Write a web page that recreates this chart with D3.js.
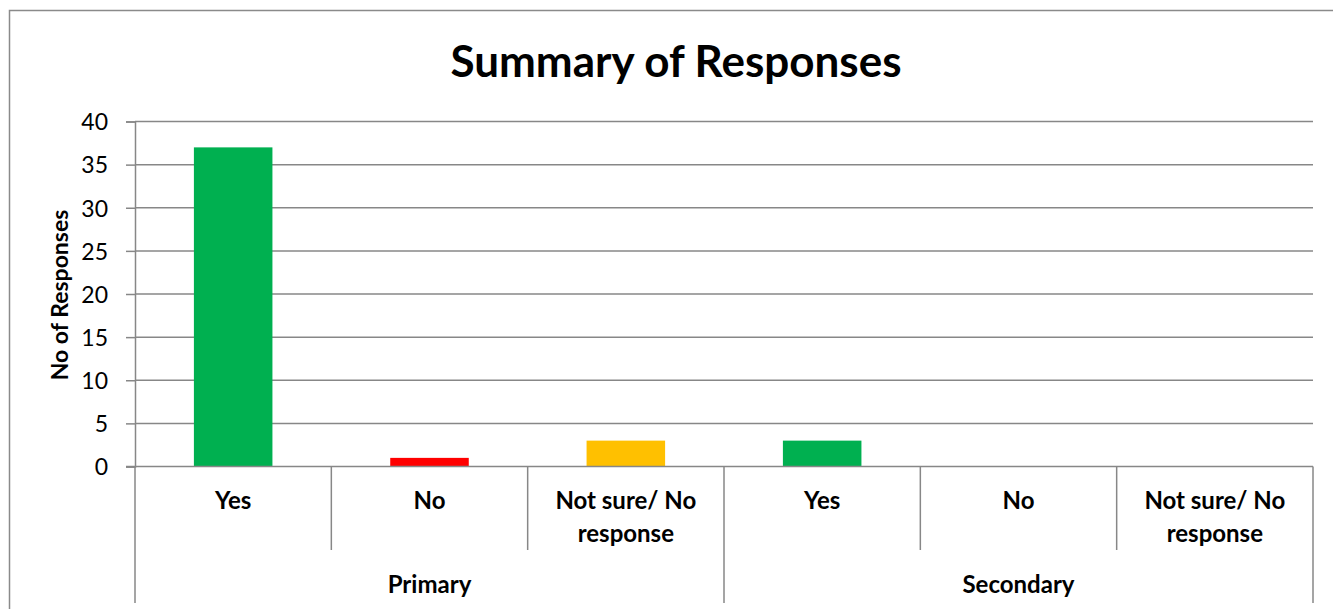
<!DOCTYPE html>
<html>
<head>
<meta charset="utf-8">
<script src="https://cdn.jsdelivr.net/npm/d3@7"></script>
<style>
  html, body { margin: 0; padding: 0; background: #fff; }
  svg { display: block; font-family: Lato, "Open Sans", sans-serif; }
</style>
</head>
<body>
<svg id="chart" width="1333" height="609"></svg>
<script>
// Survey answers, grouped by school phase
const groups = ["Primary", "Secondary"];
const answers = ["Yes", "No", "Not sure/ No response"];
const values = [37, 1, 3, 3, 0, 0];
const barColors = ["#00B050", "#FF0000", "#FFC000"];
const yTicks = [0, 5, 10, 15, 20, 25, 30, 35, 40];

const svg = d3.select("#chart");
const plot = { left: 135, right: 1313, top: 121.5, bottom: 466.5 };
const gridColor = "#878787";

// chart frame
svg.append("rect")
  .attr("x", 9.5).attr("y", 10.5)
  .attr("width", 1340).attr("height", 620)
  .attr("fill", "#fff").attr("stroke", "#8a8a8a").attr("stroke-width", 1.5);

// title
svg.append("text")
  .attr("x", 676).attr("y", 77)
  .attr("text-anchor", "middle")
  .attr("font-size", 44).attr("font-weight", "bold")
  .attr("fill", "#000")
  .text("Summary of Responses");

// flattened category list: one slot per group/answer pair
const cats = [];
groups.forEach(g => answers.forEach((a, i) => cats.push({ group: g, answer: a, idx: i })));
cats.forEach((c, i) => { c.key = i; c.value = values[i]; });

const x = d3.scaleBand()
  .domain(cats.map(c => c.key))
  .range([plot.left, plot.right])
  .paddingInner(0.6).paddingOuter(0.3);
const slot = d3.scaleBand()
  .domain(cats.map(c => c.key))
  .range([plot.left, plot.right]);

const y = d3.scaleLinear().domain([0, 40]).range([plot.bottom, plot.top]);

// horizontal gridlines
svg.append("g")
  .selectAll("line")
  .data(yTicks.filter(t => t > 0))
  .join("line")
  .attr("x1", plot.left).attr("x2", plot.right)
  .attr("y1", d => y(d)).attr("y2", d => y(d))
  .attr("stroke", gridColor).attr("stroke-width", 1.5);

// y axis
const yAxis = d3.axisLeft(y).tickValues(yTicks).tickSize(9).tickPadding(18);
const gy = svg.append("g")
  .attr("transform", `translate(${plot.left},0)`)
  .call(yAxis);
gy.select(".domain").attr("stroke", gridColor).attr("stroke-width", 1.5);
gy.selectAll(".tick line").attr("stroke", gridColor).attr("stroke-width", 1.5);
gy.selectAll(".tick text")
  .attr("font-size", 23).attr("fill", "#000")
  .attr("font-family", "Lato, sans-serif")
  .attr("dy", "0.36em");

// y axis title
svg.append("text")
  .attr("transform", `translate(68,${(plot.top + plot.bottom) / 2 + 1}) rotate(-90)`)
  .attr("text-anchor", "middle")
  .attr("font-size", 23).attr("font-weight", "bold")
  .text("No of Responses");

// bars
svg.append("g")
  .selectAll("rect")
  .data(cats.filter(c => c.value > 0))
  .join("rect")
  .attr("x", d => x(d.key))
  .attr("width", x.bandwidth())
  .attr("y", d => y(d.value))
  .attr("height", d => y(0) - y(d.value))
  .attr("fill", d => barColors[d.idx]);

// baseline
svg.append("line")
  .attr("x1", plot.left - 9).attr("x2", plot.right)
  .attr("y1", y(0)).attr("y2", y(0))
  .attr("stroke", gridColor).attr("stroke-width", 1.5);

// category dividers: short between answers, long between groups
const dividers = d3.range(cats.length + 1).map(i => ({
  x: plot.left + i * slot.bandwidth(),
  long: i % answers.length === 0
}));
svg.append("g")
  .selectAll("line")
  .data(dividers)
  .join("line")
  .attr("x1", d => d.x).attr("x2", d => d.x)
  .attr("y1", y(0)).attr("y2", d => d.long ? 603 : 550)
  .attr("stroke", gridColor).attr("stroke-width", 1.5);

// answer labels, wrapped onto two lines where long
const answerLines = {
  "Yes": ["Yes"],
  "No": ["No"],
  "Not sure/ No response": ["Not sure/ No", "response"]
};
const lab = svg.append("g")
  .selectAll("text")
  .data(cats)
  .join("text")
  .attr("x", d => slot(d.key) + slot.bandwidth() / 2)
  .attr("y", 509)
  .attr("text-anchor", "middle")
  .attr("font-size", 24).attr("font-weight", "bold");
lab.selectAll("tspan")
  .data(d => answerLines[d.answer].map(t => ({ t, cx: slot(d.key) + slot.bandwidth() / 2 })))
  .join("tspan")
  .attr("x", d => d.cx)
  .attr("dy", (d, i) => i === 0 ? 0 : 33)
  .text(d => d.t);

// group labels
const groupW = slot.bandwidth() * answers.length;
svg.append("g")
  .selectAll("text")
  .data(groups)
  .join("text")
  .attr("x", (d, i) => plot.left + groupW * i + groupW / 2)
  .attr("y", 593)
  .attr("text-anchor", "middle")
  .attr("font-size", 24).attr("font-weight", "bold")
  .text(d => d);
</script>
</body>
</html>
